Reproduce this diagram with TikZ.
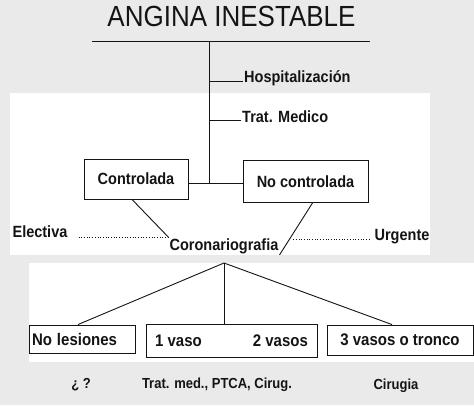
\documentclass[tikz,border=0pt]{standalone}
\usepackage{fontspec}
\setmainfont{Liberation Sans}
\usepackage{tikz}
\usetikzlibrary{positioning,calc}
\usepackage{xcolor}
\definecolor{scangray}{RGB}{234,234,234}
\definecolor{inkblack}{RGB}{20,20,20}
\newcommand{\vstretch}[1]{\scalebox{1}[1.12]{#1}}
\tikzset{
    title/.style={font=\fontsize{26}{28}\selectfont, text=inkblack, inner sep=0pt},
    lbl/.style={font=\bfseries\fontsize{14.5}{16}\selectfont, text=inkblack, inner sep=1pt},
    note/.style={font=\bfseries\fontsize{13}{15}\selectfont, text=inkblack, inner sep=1pt},
    box/.style={rectangle, draw=inkblack, line width=0.9pt, font=\bfseries\fontsize{14.5}{16}\selectfont, text=inkblack, inner sep=2pt},
    lowbox/.style={rectangle, draw=inkblack, line width=0.9pt, font=\bfseries\fontsize{15}{17}\selectfont, text=inkblack, inner sep=2pt},
    link/.style={line width=0.9pt, inkblack},
    dotlink/.style={line width=0.7pt, inkblack, dotted},
}
\begin{document}
\begin{tikzpicture}[x=1pt, y=-1pt]
    % scanned page background
    \fill[scangray] (0,0) rectangle (474,405);
    \useasboundingbox (0,0) rectangle (474,405);
    \fill[white] (10,93) rectangle (430,255);
    \fill[white] (29,263) rectangle (474,362);

    \node[title] (angina) at (231.5,16) {\vstretch{ANGINA INESTABLE}};
    \coordinate (ruleL) at (92,41);
    \coordinate (ruleR) at (370,41);
    \draw[link] (ruleL) -- (ruleR);
    \coordinate (top) at (209,41);

    \node[lbl, anchor=west] (hosp) at (243,78) {\vstretch{Hospitalización}};
    \node[lbl, anchor=west] (trat) at (241,117) {\vstretch{Trat. Medico}};
    \coordinate (h1) at (209,81);
    \coordinate (h2) at (209,120);
    \draw[link] (h1) -- (h1 -| hosp.west);
    \draw[link] (h2) -- (h2 -| trat.west);

    \node[box, minimum width=104pt, minimum height=40pt] (ctrl) at (136,179) {\vstretch{Controlada}};
    \node[box, minimum width=125pt, minimum height=42pt] (noctrl) at (305.5,181.5) {\vstretch{No controlada}};
    \coordinate (mid) at (209,183);
    \draw[link] (top) -- (mid);
    \draw[link] (mid -| ctrl.east) -- (mid -| noctrl.west);

    \node[lbl] (coro) at (224,246) {\vstretch{Coronariografia}};
    \node[lbl] (elect) at (40,232) {\vstretch{Electiva}};
    \node[lbl] (urg) at (402,237) {\vstretch{Urgente}};
    \draw[link] ([xshift=-4pt]ctrl.south) -- (coro.north west);
    \draw[link] ([xshift=7pt]noctrl.south) -- (coro.south east);
    \draw[dotlink] ([xshift=10pt,yshift=-5pt]elect.east) -- ([yshift=-5pt]elect.east -| coro.north west);
    \draw[dotlink] ([xshift=-4pt,yshift=-2pt]urg.west) -- ([xshift=12pt,yshift=-2pt]urg.west -| coro.east);

    \node[lowbox, minimum width=106pt, minimum height=28pt, text width=100pt, align=left] (nolesion) at (82,339) {\vstretch{No lesiones}};
    \node[lowbox, minimum width=171pt, minimum height=33pt] (vasos) at (231.5,340.5) {\vstretch{1 vaso\hspace{51pt}2 vasos}};
    \node[lowbox, minimum width=146pt, minimum height=30pt] (tronco) at (400,340) {\vstretch{3 vasos o tronco}};
    \coordinate (apex) at (224,263);
    \draw[link] (apex) -- ([xshift=-4pt]nolesion.north);
    \draw[link] (apex) -- (apex |- vasos.north);
    \draw[link] (apex) -- ([xshift=-8pt]tronco.north);

    \node[note] (q) at (81,385) {\vstretch{¿ ?}};
    \node[note] (opts) at (217,385) {\vstretch{Trat. med., PTCA, Cirug.}};
    \node[note] (cir) at (396,386) {\vstretch{Cirugia}};
\end{tikzpicture}
\end{document}
